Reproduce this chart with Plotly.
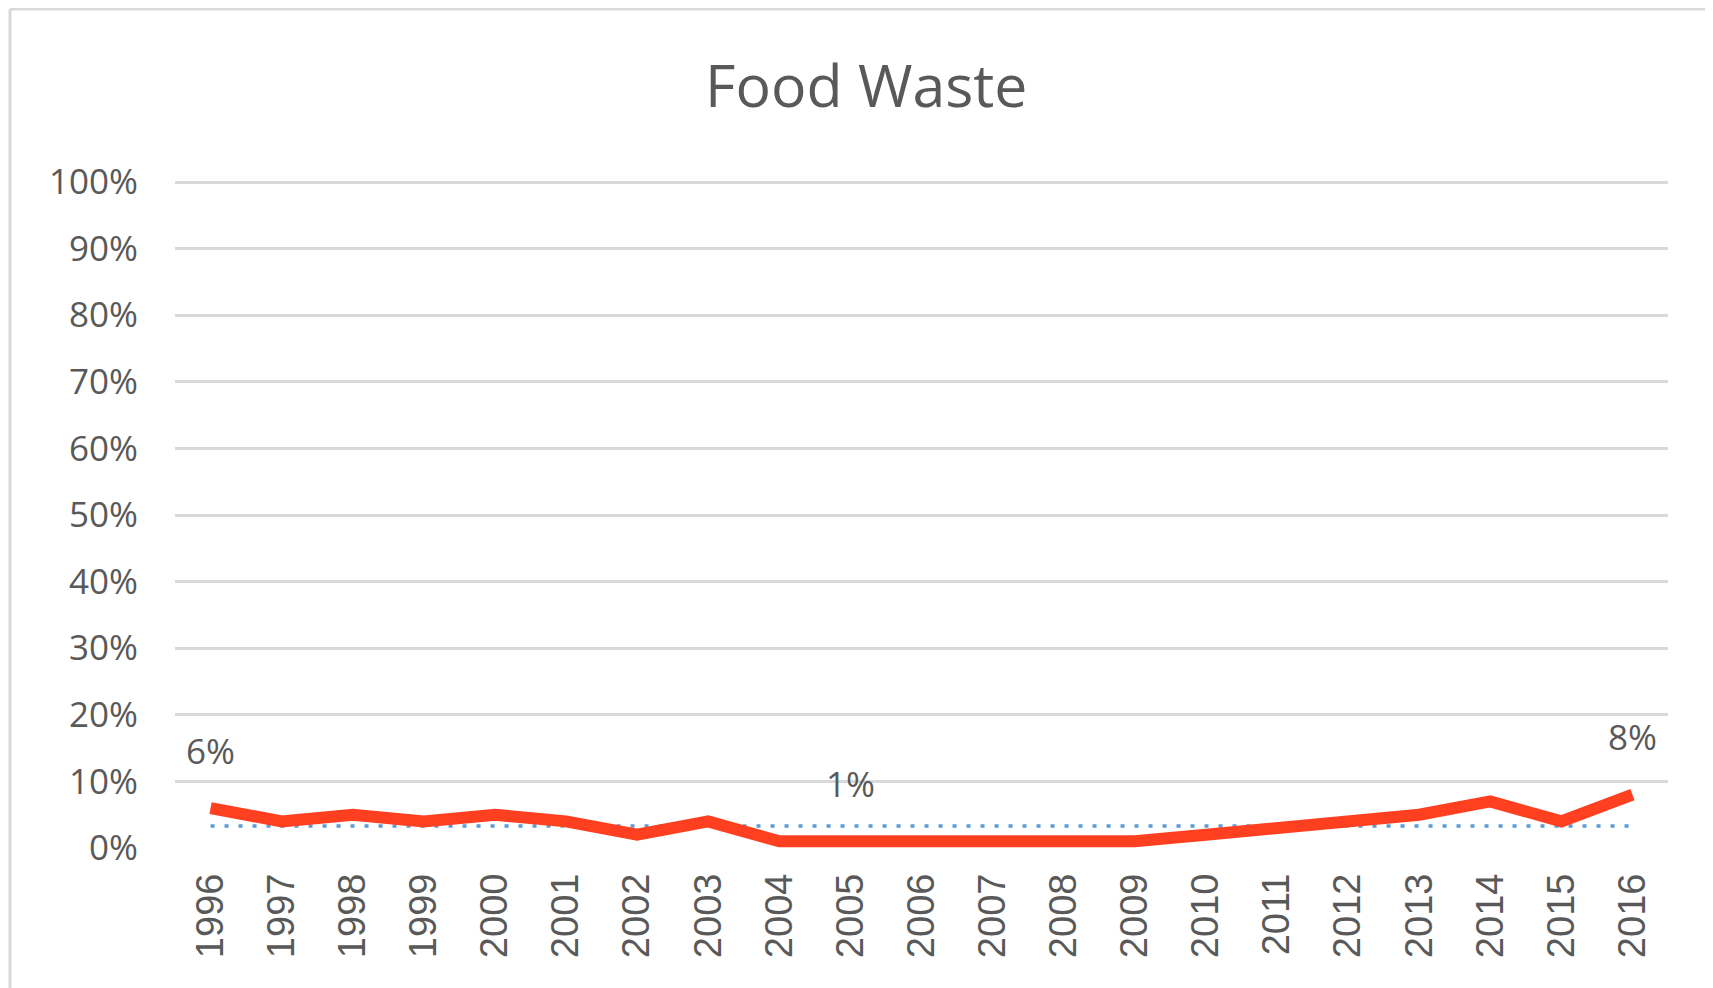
import plotly.graph_objects as go

years = [str(y) for y in range(1996, 2017)]
food_waste = [6, 4, 5, 4, 5, 4, 2, 4, 1, 1, 1, 1, 1, 1, 2, 3, 4, 5, 7, 4, 8]
average = [3.3] * len(years)
label_years = ["1996", "2005", "2016"]
label_texts = ["6%", "1%", "8%"]
y_ticks = list(range(0, 101, 10))
y_ticktext = [f"{v}%" for v in y_ticks]

TEXT = "#595959"
GRID = "#D9D9D9"

fig = go.Figure()
fig.add_trace(go.Scatter(
    x=years, y=average, mode="lines",
    line=dict(color="#5B9BD5", width=3.5, dash="4px,10px"),
    hoverinfo="skip", showlegend=False,
))
fig.add_trace(go.Scatter(
    x=years, y=food_waste, mode="lines",
    line=dict(color="#FF4020", width=12),
    showlegend=False,
))

for yr, txt in zip(label_years, label_texts):
    i = years.index(yr)
    fig.add_annotation(
        x=i, y=food_waste[i], xref="x", yref="y", text=txt, showarrow=False,
        yshift=58, font=dict(family="Open Sans", size=35, color=TEXT),
        xanchor="center", yanchor="middle",
    )

# chart-area frame (left and top edges visible)
fig.add_shape(type="line", xref="paper", yref="paper",
              x0=-0.1105, x1=-0.1105, y0=1.256, y1=-0.25,
              line=dict(color=GRID, width=3))
fig.add_shape(type="line", xref="paper", yref="paper",
              x0=-0.1105, x1=1.06, y0=1.256, y1=1.256,
              line=dict(color=GRID, width=3))

fig.update_layout(
    width=1713, height=988,
    margin=dict(l=167, r=53, t=172, b=148),
    paper_bgcolor="white", plot_bgcolor="white",
    title=dict(text="Food Waste", x=0.463, xref="paper", xanchor="center",
               y=1 - 78 / 988, yref="container", yanchor="middle",
               font=dict(family="Open Sans", size=59, color=TEXT)),
    xaxis=dict(
        type="category", range=[-0.5, 20.5],
        showgrid=False, showline=False, zeroline=False,
        tickangle=-90, ticks="",
        tickfont=dict(family="Liberation Sans", size=38, color=TEXT),
        ticklabelstandoff=17,
    ),
    yaxis=dict(
        range=[0, 100.3], tickvals=y_ticks, ticktext=y_ticktext,
        showgrid=True, gridcolor=GRID, gridwidth=3,
        zeroline=False, showline=False, ticks="",
        tickfont=dict(family="Open Sans", size=35, color=TEXT),
        ticklabelstandoff=36,
    ),
)

fig.write_html("out.html")
